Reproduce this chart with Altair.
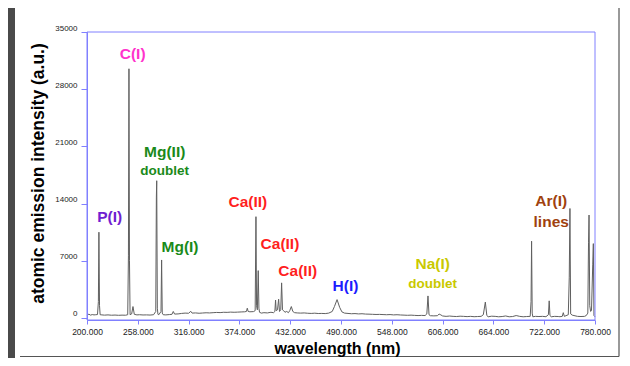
import altair as alt
import pandas as pd

# ---- spectrum ----
wavelength = [200, 202, 204, 206, 208, 210, 212, 213.0, 213.6, 214.3, 215, 217, 220, 224, 228, 232, 236, 240, 244,
              246.5, 247.3, 247.9, 248.5, 249.2, 251, 252.5, 254, 257, 260, 264, 268, 272, 276, 278.5, 279.2, 279.6,
              280.3, 281, 282, 284.5, 285.2, 285.9, 287, 290, 294, 297, 298.5, 300, 304, 308, 312, 316, 318.5, 320,
              324, 328, 332, 336, 340, 344, 348, 352, 356, 360, 364, 368, 372, 376, 380, 382, 383, 384, 386, 390,
              392, 392.9, 393.6, 394.5, 395.5, 396.3, 397, 399, 402, 406, 410, 413, 414.5, 415.3, 416, 417.5, 418.8,
              419.8, 421.2, 422.2, 423.2, 424.5, 426, 428, 430, 431.5, 433.3, 435, 437, 440, 444, 448, 452, 456, 460,
              464, 468, 472, 476, 480, 482.5, 485.5, 488.5, 491, 494, 498, 502, 506, 510, 514, 518, 522, 526, 530,
              534, 538, 542, 546, 550, 554, 558, 562, 566, 570, 574, 578, 582, 586, 588, 589.3, 590.5, 592, 596, 600,
              602, 604, 606, 610, 614, 618, 622, 626, 630, 634, 638, 642, 646, 650, 652.5, 654.8, 656.5, 658, 662,
              666, 670, 674, 678, 682, 686, 690, 694, 698, 702, 706, 707, 707.6, 708.3, 709, 712, 716, 720, 724,
              726.8, 727.7, 728.6, 730, 734, 738, 740, 742.6, 743.8, 745, 749.5, 750.6, 751.4, 752.2, 754, 756, 760,
              764, 768, 770, 771.8, 772.6, 773.2, 774, 775, 776, 777.4, 778.1, 778.8, 780]
intensity = [250, 480, 350, 420, 380, 400, 420, 2000, 10500, 1500, 400, 380, 350, 380, 340, 360, 330, 350, 340,
             400, 7600, 30500, 7000, 400, 500, 1400, 450, 380, 400, 370, 380, 360, 400, 800, 14800, 16800,
             1200, 450, 400, 800, 7100, 600, 400, 380, 420, 450, 800, 480, 500, 560, 600, 580, 820, 600,
             620, 580, 610, 640, 620, 650, 680, 660, 700, 690, 720, 700, 720, 740, 760, 800, 1200, 800, 760, 780,
             900, 12400, 1500, 1000, 5800, 1200, 700, 600, 650, 620, 700, 650, 800, 2200, 900, 1000, 2300,
             800, 1000, 4300, 1000, 900, 700, 800, 650, 900, 1400, 800, 650, 620, 600, 620, 580, 560, 590,
             550, 560, 540, 600, 800, 1400, 2250, 1300, 750, 600, 560, 520, 540, 500, 520, 480, 470, 450, 430,
             440, 420, 400, 420, 380, 400, 370, 350, 330, 350, 320, 300, 320, 300, 500, 2700, 400, 280, 260, 280,
             480, 380, 250, 200, 240, 200, 180, 220, 200, 170, 200, 160, 180, 200, 400, 1950, 300, 150, 220,
             200, 150, 180, 250, 150, 180, 300, 200, 150, 180, 200, 2000, 9400, 600, 150, 200, 180, 200, 160,
             400, 2100, 300, 150, 200, 180, 160, 200, 650, 200, 400, 5000, 13400, 500, 350, 300, 200,
             180, 200, 300, 600, 9200, 12600, 1500, 800, 900, 6500, 9100, 300, 150]

# ---- annotations ----
label_text = ["C(I)", "P(I)", "Mg(II)", "doublet", "Mg(I)", "Ca(II)", "Ca(II)", "Ca(II)", "H(I)",
              "Na(I)", "doublet", "Ar(I)", "lines"]
label_wl = [252.1, 225.9, 288.7, 288.7, 306.2, 383.7, 420.3, 440.6, 495.1, 594.7, 594.7, 730.0, 730.0]
label_int = [32310, 12400, 20350, 18030, 8730, 14160, 9020, 5750, 3950, 6570, 4200, 14280, 11790]
label_element = ["C", "P", "Mg", "Mg", "Mg", "Ca", "Ca", "Ca", "H", "Na", "Na", "Ar", "Ar"]

x_ticks = [200, 258, 316, 374, 432, 490, 548, 606, 664, 722, 780]
y_ticks = [0, 7000, 14000, 21000, 28000, 35000]

element_color = {"C": "#ff33cc", "P": "#7020d0", "Mg": "#1a8a1a", "Ca": "#ff1f1f",
                 "H": "#1c1cff", "Na": "#c9c900", "Ar": "#a0420f"}

spec = pd.DataFrame({"wl": wavelength, "I": intensity})
labels = pd.DataFrame({"text": label_text, "wl": label_wl, "I": label_int, "el": label_element})
labels["color"] = labels["el"].map(element_color)
labels["size"] = [13.5 if t == "doublet" else 15.5 for t in label_text]

W, H = 508, 288
FONT = "Liberation Sans"

xscale = alt.Scale(domain=[200, 780], nice=False, zero=False)
yscale = alt.Scale(domain=[-245, 35000], nice=False, zero=False)

xaxis = alt.Axis(values=x_ticks, format=".3f", title="wavelength (nm)", grid=False,
                 domainColor="#8080ff", tickColor="#8080ff", tickSize=4, labelPadding=3,
                 labelFontSize=8.5, labelColor="#222", labelFont=FONT, labelFlush=False,
                 titleFont=FONT, titleFontSize=16, titleFontWeight="bold", titleColor="#000",
                 titleX=250, titleY=28, titleBaseline="middle", titleAlign="center", zindex=1,
                 labelOverlap=False)
yaxis = alt.Axis(values=y_ticks, format="d", title="atomic emission intensity (a.u.)", grid=False,
                 domainColor="#8080ff", tickColor="#8080ff", tickSize=6, labelPadding=4,
                 labelFontSize=8, labelColor="#222", labelFont=FONT, labelOffset=-4, labelFlush=False,
                 titleFont=FONT, titleFontSize=17.5, titleFontWeight="bold", titleColor="#000",
                 titleX=-49, titleY=141, titleAngle=-90, titleBaseline="middle", titleAlign="center",
                 zindex=1, labelOverlap=False)

one = alt.Data(values=[{"a": 1}])

panel = alt.Chart(one).mark_rect(fill="white").encode(
    x=alt.value(-72), x2=alt.value(540), y=alt.value(-24), y2=alt.value(340))
edge_b = alt.Chart(one).mark_rule(color="#555", strokeWidth=1.2).encode(
    x=alt.value(-67), x2=alt.value(532), y=alt.value(324.5))
edge_r = alt.Chart(one).mark_rule(color="#555", strokeWidth=1.2).encode(
    x=alt.value(532), y=alt.value(-24), y2=alt.value(324.5))

line = alt.Chart(spec).mark_line(color="#606060", strokeWidth=1, interpolate="linear").encode(
    x=alt.X("wl:Q", scale=xscale, axis=xaxis),
    y=alt.Y("I:Q", scale=yscale, axis=yaxis),
    order=alt.Order("wl:Q"))

frame = alt.Chart(one).mark_rect(fillOpacity=0, stroke="#8080ff", strokeWidth=1).encode(
    x=alt.value(0), x2=alt.value(W), y=alt.value(0), y2=alt.value(H))

text = alt.Chart(labels).mark_text(font=FONT, fontWeight="bold", align="center", baseline="middle").encode(
    x=alt.X("wl:Q", scale=xscale),
    y=alt.Y("I:Q", scale=yscale),
    text="text:N",
    color=alt.Color("color:N", scale=None),
    size=alt.Size("size:Q", scale=None))

chart = alt.layer(panel, edge_b, edge_r, line, frame, text).properties(
    width=W, height=H,
    background="#4a4a4a",
    padding={"left": 79, "top": 24, "right": 27, "bottom": 38},
    autosize=alt.AutoSizeParams(type="none"),
).configure_view(stroke=None)

chart.save("out.html", embed_options={"renderer": "svg", "actions": False})
